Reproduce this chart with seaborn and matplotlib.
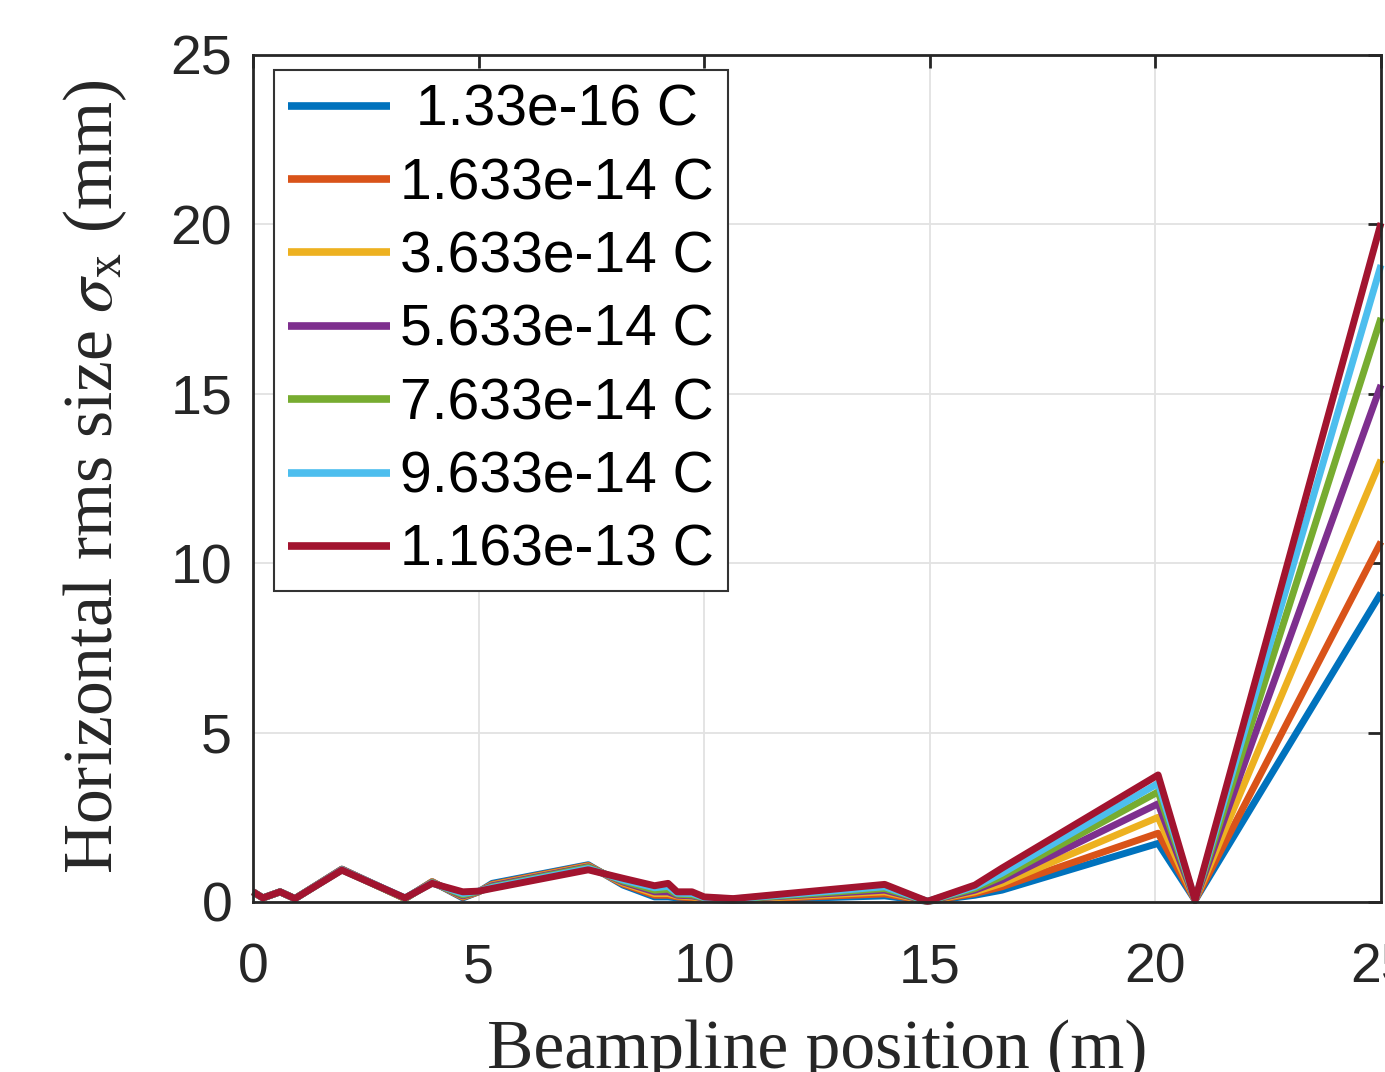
import numpy as np
import pandas as pd
import matplotlib
matplotlib.use("Agg")
import matplotlib.pyplot as plt
import seaborn as sns

# ---- data ----
position = [0.0, 0.22, 0.6, 0.93, 1.97, 3.37, 3.97, 4.65, 5.0, 5.3, 7.43, 8.2, 8.9, 9.2,
            9.4, 9.73, 10.0, 10.64, 14.0, 14.95, 16.0, 16.6, 20.06, 20.88, 25.0]

charges = [" 1.33e-16 C", "1.633e-14 C", "3.633e-14 C", "5.633e-14 C",
           "7.633e-14 C", "9.633e-14 C", "1.163e-13 C"]

sigma_1 = [0.30, 0.12, 0.30, 0.10, 0.97, 0.10, 0.60, 0.12, 0.30, 0.55, 1.10, 0.50, 0.15, 0.15,
           0.12, 0.10, 0.08, 0.05, 0.18, 0.02, 0.20, 0.35, 1.73, 0.05, 9.12]
sigma_2 = [0.30, 0.12, 0.30, 0.10, 0.97, 0.10, 0.60, 0.14, 0.30, 0.52, 1.08, 0.53, 0.20, 0.20,
           0.15, 0.12, 0.09, 0.06, 0.24, 0.02, 0.25, 0.45, 2.03, 0.05, 10.63]
sigma_3 = [0.30, 0.12, 0.30, 0.10, 0.96, 0.10, 0.59, 0.16, 0.31, 0.50, 1.06, 0.56, 0.25, 0.25,
           0.18, 0.15, 0.10, 0.07, 0.30, 0.02, 0.30, 0.55, 2.50, 0.05, 13.05]
sigma_4 = [0.30, 0.12, 0.30, 0.10, 0.96, 0.11, 0.58, 0.18, 0.31, 0.48, 1.04, 0.59, 0.30, 0.30,
           0.20, 0.18, 0.11, 0.08, 0.35, 0.02, 0.35, 0.65, 2.90, 0.05, 15.26]
sigma_5 = [0.30, 0.12, 0.30, 0.10, 0.95, 0.11, 0.57, 0.21, 0.31, 0.45, 1.02, 0.62, 0.35, 0.38,
           0.23, 0.21, 0.12, 0.08, 0.40, 0.02, 0.40, 0.75, 3.25, 0.05, 17.24]
sigma_6 = [0.30, 0.12, 0.30, 0.10, 0.95, 0.12, 0.56, 0.25, 0.32, 0.43, 0.99, 0.65, 0.42, 0.46,
           0.26, 0.25, 0.13, 0.09, 0.45, 0.02, 0.45, 0.85, 3.50, 0.05, 18.80]
sigma_7 = [0.30, 0.12, 0.30, 0.10, 0.94, 0.12, 0.55, 0.30, 0.32, 0.40, 0.95, 0.70, 0.48, 0.55,
           0.30, 0.30, 0.15, 0.10, 0.52, 0.02, 0.50, 1.00, 3.75, 0.05, 20.04]

series = [sigma_1, sigma_2, sigma_3, sigma_4, sigma_5, sigma_6, sigma_7]
colors = ["#0072BD", "#D95319", "#EDB120", "#7E2F8E", "#77AC30", "#4DBEEE", "#A2142F"]

xticks = [0, 5, 10, 15, 20, 25]
yticks = [0, 5, 10, 15, 20, 25]

# ---- figure ----
sns.set_theme(style="white")
plt.rcParams["font.family"] = ["Liberation Sans", "DejaVu Sans"]
plt.rcParams["mathtext.fontset"] = "stix"

W, H = 1385, 1072
fig = plt.figure(figsize=(W / 100, H / 100), dpi=100)
ax_l, ax_r, ax_t, ax_b = 253, 1381, 55, 902
ax = fig.add_axes([ax_l / W, (H - ax_b) / H, (ax_r - ax_l) / W, (ax_b - ax_t) / H])

for vals, col, lab in zip(series, colors, charges):
    df = pd.DataFrame({"x": position, "y": vals})
    sns.lineplot(data=df, x="x", y="y", color=col, linewidth=5.0, label=lab,
                 ax=ax, errorbar=None, sort=False, clip_on=False,
                 solid_joinstyle="round", solid_capstyle="butt")

ax.set_xlim(0, 25)
ax.set_ylim(0, 25)
ax.set_xticks(xticks)
ax.set_yticks(yticks)
ax.set_xticklabels([str(t) for t in xticks])
ax.set_yticklabels([str(t) for t in yticks])
ax.set_xlabel("")
ax.set_ylabel("")

ax.grid(True, color="#e2e2e2", linewidth=1.3)
ax.set_axisbelow(True)
for s in ax.spines.values():
    s.set_visible(True)
    s.set_color("#262626")
    s.set_linewidth(2.0)

ax.tick_params(axis="both", which="major", direction="in", length=9.5, width=2.0,
               colors="#262626", labelsize=40, top=True, right=True)
ax.tick_params(axis="x", pad=29)
ax.tick_params(axis="y", pad=15)

leg = ax.legend(loc="upper left", bbox_to_anchor=((274 - ax_l) / (ax_r - ax_l), (ax_b - 70) / (ax_b - ax_t)),
                borderaxespad=0, fontsize=41, handlelength=1.8, handletextpad=0.18,
                labelspacing=0.34, borderpad=0.24, frameon=True, fancybox=False,
                framealpha=1, edgecolor="#333333")
leg.get_frame().set_linewidth(1.5)
for line in leg.get_lines():
    line.set_linewidth(5.5)
for t in leg.get_texts():
    t.set_color("black")

fig.text(95 / W, 1 - 477 / H, r"Horizontal rms size $\sigma_{\mathrm{x}}$ (mm)", rotation=90,
         ha="center", va="center", fontsize=50, family=["Liberation Serif", "DejaVu Serif"],
         color="#262626")
fig.text(817 / W, (H - 1068) / H, "Beampline position (m)", ha="center", va="baseline",
         fontsize=50, family=["Liberation Serif", "DejaVu Serif"], color="#262626")

fig.savefig("out.png", dpi=100)
